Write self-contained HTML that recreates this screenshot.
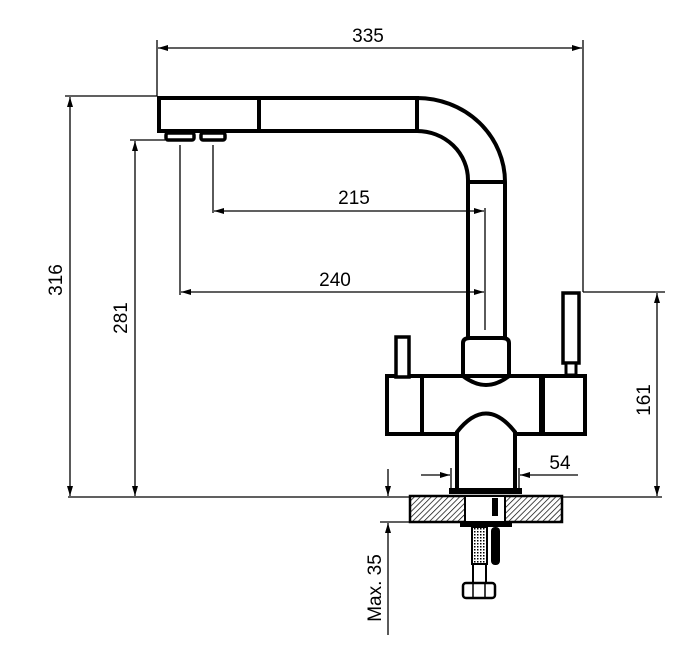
<!DOCTYPE html>
<html><head><style>body{margin:0;background:#fff}</style></head><body>
<svg width="674" height="647" viewBox="0 0 674 647" xmlns="http://www.w3.org/2000/svg" font-family="Liberation Sans, sans-serif">
<defs>
<pattern id="h" width="4" height="4" patternUnits="userSpaceOnUse" patternTransform="rotate(45)"><rect width="4" height="4" fill="#fff"/><line x1="0" y1="0" x2="0" y2="4" stroke="#000" stroke-width="1.4"/></pattern>
<pattern id="m" width="3" height="3" patternUnits="userSpaceOnUse"><rect width="3" height="3" fill="#fff"/><rect width="1.5" height="1.5" fill="#000"/></pattern>
<marker id="a" viewBox="0 0 10 6" refX="10" refY="3" markerWidth="12" markerHeight="6" orient="auto-start-reverse" markerUnits="userSpaceOnUse"><path d="M0,0L10,3L0,6z" fill="#000"/></marker>
</defs>
<g stroke="#000" fill="none" stroke-width="1.3">
<line x1="157" y1="40" x2="157" y2="96"/><line x1="583" y1="40" x2="583" y2="292"/>
<line x1="158" y1="48" x2="582" y2="48" marker-start="url(#a)" marker-end="url(#a)"/>
<line x1="65" y1="96" x2="157" y2="96"/>
<line x1="70" y1="97" x2="70" y2="496" marker-start="url(#a)" marker-end="url(#a)"/>
<line x1="68" y1="497" x2="448" y2="497"/><line x1="563" y1="497" x2="662" y2="497"/>
<line x1="130" y1="140" x2="165" y2="140"/>
<line x1="135" y1="141" x2="135" y2="496" marker-start="url(#a)" marker-end="url(#a)"/>
<line x1="583" y1="292" x2="665" y2="292"/>
<line x1="657" y1="293" x2="657" y2="496" marker-start="url(#a)" marker-end="url(#a)"/>
<line x1="213" y1="145" x2="213" y2="213"/><line x1="180" y1="145" x2="180" y2="295"/>
<line x1="485" y1="208" x2="485" y2="330"/>
<line x1="214" y1="211" x2="484" y2="211" marker-start="url(#a)" marker-end="url(#a)"/>
<line x1="181" y1="292" x2="484" y2="292" marker-start="url(#a)" marker-end="url(#a)"/>
<line x1="451" y1="468" x2="451" y2="494"/><line x1="519" y1="468" x2="519" y2="494"/>
<line x1="421" y1="475" x2="450" y2="475" marker-end="url(#a)"/>
<line x1="578" y1="475" x2="520" y2="475" marker-end="url(#a)"/>
<line x1="388" y1="469" x2="388" y2="496" marker-end="url(#a)"/>
<line x1="388" y1="635" x2="388" y2="523" marker-end="url(#a)"/>
<line x1="380" y1="522" x2="410" y2="522"/>
</g>
<g stroke="#000" fill="none" stroke-width="4">
<rect x="159" y="98" width="258" height="33"/>
<line x1="259" y1="98" x2="259" y2="131"/>
<path d="M417,98 A88,84 0 0 1 505,182 L505,340"/>
<path d="M417,131 A51,49 0 0 1 468,180 L468,340"/>
<line x1="468" y1="182" x2="505" y2="182"/>
<rect x="166" y="133" width="28" height="7" rx="2" stroke-width="3.5"/>
<rect x="201" y="133" width="24" height="7" rx="2" stroke-width="3.5"/>
<path d="M463,376 L463,343 Q463,338 470,338 L502,338 Q509,338 509,343 L509,376 Q486,394 463,376Z" fill="#fff"/>
<rect x="387" y="376" width="198" height="58" fill="none"/>
<line x1="422" y1="376" x2="422" y2="434"/><line x1="542" y1="376" x2="542" y2="434" stroke-width="6"/>
<path d="M457,490 L457,432 Q486,395 515,432 L515,490" fill="#fff"/>
<rect x="396" y="337" width="13" height="40" fill="#fff" stroke-width="3.5"/>
<rect x="563" y="293" width="16" height="70" fill="#fff" stroke-width="3.5"/>
<rect x="566" y="363" width="10" height="12" fill="#fff" stroke-width="3"/>
</g>
<rect x="449" y="488" width="73" height="6" fill="#000"/>
<rect x="410" y="496" width="152" height="26" fill="url(#h)" stroke="#000" stroke-width="2.5"/>
<rect x="465" y="496" width="40" height="26" fill="#fff" stroke="#000" stroke-width="2"/>
<rect x="492" y="498" width="6" height="18" fill="#000"/>
<rect x="460" y="521" width="52" height="6" fill="#000"/>
<rect x="472" y="527" width="15" height="37" fill="url(#m)" stroke="#000" stroke-width="2"/>
<rect x="491" y="527" width="9" height="38" rx="4" fill="#000"/>
<rect x="473" y="564" width="13" height="19" fill="#fff" stroke="#000" stroke-width="2"/>
<rect x="463" y="583" width="32" height="15" rx="3" fill="#fff" stroke="#000" stroke-width="2.5"/>
<line x1="473" y1="583" x2="473" y2="598" stroke="#000" stroke-width="1.5"/><line x1="485" y1="583" x2="485" y2="598" stroke="#000" stroke-width="1.5"/>
<g font-size="19" fill="#000" text-anchor="middle">
<text x="368" y="42">335</text>
<text x="354" y="204">215</text>
<text x="335" y="286">240</text>
<text x="560" y="469">54</text>
<text transform="translate(62,280) rotate(-90)">316</text>
<text transform="translate(127,318) rotate(-90)">281</text>
<text transform="translate(650,400) rotate(-90)">161</text>
<text transform="translate(381,588) rotate(-90)">Max. 35</text>
</g>
</svg>
</body></html>
